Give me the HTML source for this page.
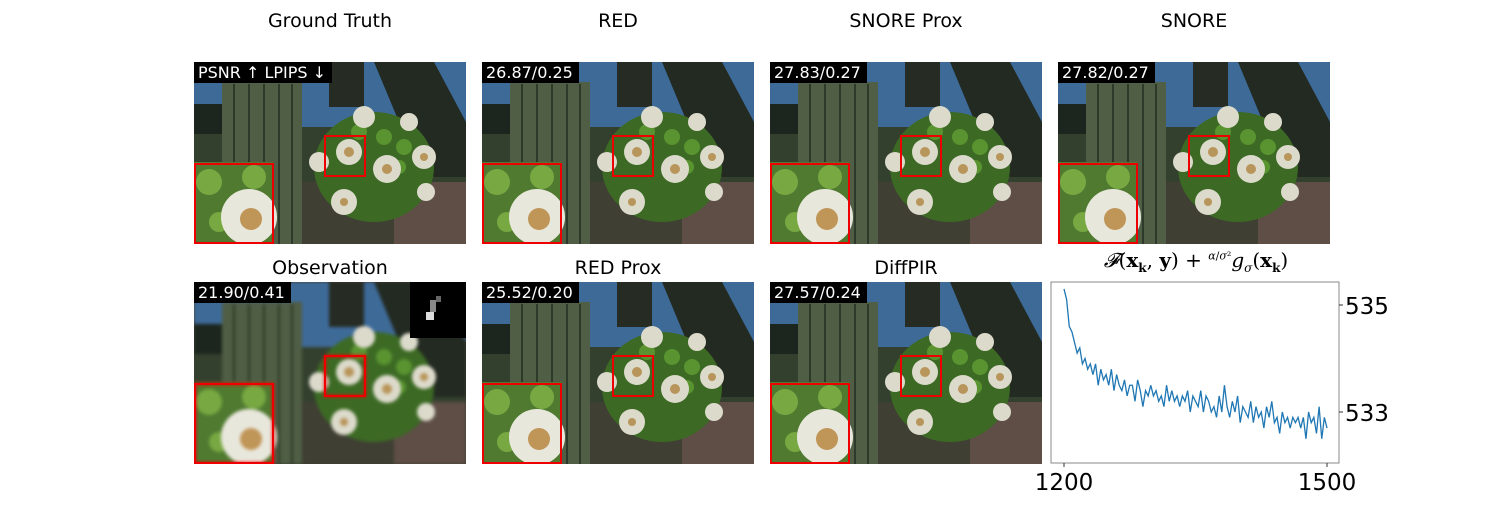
<!DOCTYPE html>
<html><head><meta charset="utf-8"><style>
body{margin:0;background:#fff;font-family:"DejaVu Sans","Liberation Sans",sans-serif;}
#root{position:relative;width:1488px;height:520px;overflow:hidden;background:#fff}
.title{position:absolute;width:272px;text-align:center;font-size:19px;color:#000}
.panel{position:absolute;width:272px;height:182px;overflow:hidden}
.tag{position:absolute;left:0;top:0;height:21px;background:#000;color:#fff;font-size:16px;line-height:21px;padding:0 6px 0 4px}
</style></head><body>
<div id="root">
<svg width="0" height="0" style="position:absolute"><defs>
<g id="scene">
<rect x="0" y="0" width="272" height="182" fill="#3f3f33"/>
<rect x="0" y="0" width="272" height="75" fill="#3e6a98"/>
<rect x="0" y="65" width="272" height="55" fill="#34402e"/>
<rect x="0" y="42" width="40" height="30" fill="#1c261e"/>
<rect x="135" y="0" width="35" height="45" fill="#262c24"/>
<polygon points="180,0 240,0 272,60 272,115 240,115 205,60" fill="#232a22"/>
<rect x="28" y="20" width="80" height="162" fill="#4f5e45"/>
<g stroke="#2e3a29" stroke-width="2"><line x1="40" y1="22" x2="40" y2="182"/><line x1="55" y1="22" x2="55" y2="182"/><line x1="70" y1="22" x2="70" y2="182"/><line x1="85" y1="22" x2="85" y2="182"/><line x1="98" y1="22" x2="98" y2="182"/></g>
<rect x="200" y="120" width="72" height="62" fill="#5e4e46"/>
<ellipse cx="180" cy="105" rx="60" ry="55" fill="#3c6a24"/>
<g fill="#5a9430"><circle cx="165" cy="70" r="8"/><circle cx="190" cy="75" r="8"/><circle cx="210" cy="85" r="8"/><circle cx="150" cy="90" r="7"/><circle cx="205" cy="105" r="7"/></g>
<g fill="#dcdacb"><circle cx="155" cy="90" r="13"/><circle cx="193" cy="107" r="14"/><circle cx="230" cy="95" r="12"/><circle cx="150" cy="140" r="13"/><circle cx="125" cy="100" r="10"/><circle cx="170" cy="55" r="11"/><circle cx="215" cy="60" r="9"/><circle cx="232" cy="130" r="9"/></g>
<g fill="#b8955a"><circle cx="155" cy="90" r="5"/><circle cx="193" cy="107" r="5"/><circle cx="230" cy="95" r="4"/><circle cx="150" cy="140" r="4"/></g>
<rect x="0" y="100" width="80" height="82" fill="#4f7a30"/>
<g fill="#78a842"><circle cx="15" cy="120" r="13"/><circle cx="60" cy="115" r="12"/><circle cx="25" cy="160" r="10"/></g>
<circle cx="55" cy="155" r="28" fill="#e8e7dc"/>
<circle cx="57" cy="157" r="11" fill="#c09558"/>
<rect x="1" y="102" width="78" height="79" fill="none" stroke="#e00" stroke-width="2"/>
<rect x="131" y="74" width="40" height="40" fill="none" stroke="#e00" stroke-width="2"/>
</g>
</defs></svg>

<div class="title" style="left:194px;top:10px">Ground Truth</div>
<div class="title" style="left:482px;top:10px">RED</div>
<div class="title" style="left:770px;top:10px">SNORE Prox</div>
<div class="title" style="left:1058px;top:10px">SNORE</div>
<div class="title" style="left:194px;top:257px">Observation</div>
<div class="title" style="left:482px;top:257px">RED Prox</div>
<div class="title" style="left:770px;top:257px">DiffPIR</div>

<div class="panel" style="left:194px;top:62px"><svg width="272" height="182"><use href="#scene"/></svg><div class="tag">PSNR ↑ LPIPS ↓</div></div>
<div class="panel" style="left:482px;top:62px"><svg width="272" height="182"><use href="#scene"/></svg><div class="tag">26.87/0.25</div></div>
<div class="panel" style="left:770px;top:62px"><svg width="272" height="182"><use href="#scene"/></svg><div class="tag">27.83/0.27</div></div>
<div class="panel" style="left:1058px;top:62px"><svg width="272" height="182"><use href="#scene"/></svg><div class="tag">27.82/0.27</div></div>
<div class="panel" style="left:194px;top:282px"><svg width="272" height="182"><rect width="272" height="182" fill="#3f3f33"/><g style="filter:blur(1.5px)"><use href="#scene"/></g><rect x="1" y="102" width="78" height="79" fill="none" stroke="#e00" stroke-width="2"/><rect x="131" y="74" width="40" height="40" fill="none" stroke="#e00" stroke-width="2"/><rect x="216" y="0" width="56" height="56" fill="#000"/><rect x="236" y="18" width="6" height="12" fill="#888"/><rect x="232" y="30" width="8" height="8" fill="#ddd"/><rect x="242" y="14" width="5" height="6" fill="#666"/></svg><div class="tag">21.90/0.41</div></div>
<div class="panel" style="left:482px;top:282px"><svg width="272" height="182"><use href="#scene"/></svg><div class="tag">25.52/0.20</div></div>
<div class="panel" style="left:770px;top:282px"><svg width="272" height="182"><use href="#scene"/></svg><div class="tag">27.57/0.24</div></div>

<div style="position:absolute;left:1050px;top:248px;width:292px;text-align:center;font-size:20px;font-family:'DejaVu Serif',serif;white-space:nowrap"><i>𝓕</i>(<b>x</b><sub style="font-size:12px"><b>k</b></sub>, <b>y</b>) + <sup style="font-size:11px"><i>α</i>/<i>σ</i>²</sup><i>g</i><sub style="font-size:12px"><i>σ</i></sub>(<b>x</b><sub style="font-size:12px"><b>k</b></sub>)</div>
<svg id="chart" style="position:absolute;left:0;top:0" width="1488" height="520"></svg>
</div>
<script>
const iters=[];for(let i=0;i<=100;i++)iters.push(1200+3*i);
const values=[535.3,535.1,534.6,534.5,534.3,534.1,534.2,533.9,534.0,533.8,
533.9,533.7,533.9,533.5,533.8,533.6,533.7,533.5,533.8,533.4,
533.7,533.5,533.4,533.6,533.3,533.5,533.5,533.2,533.6,533.4,
533.1,533.4,533.3,533.5,533.3,533.4,533.2,533.3,533.1,533.5,
533.2,533.4,533.2,533.3,533.1,533.3,533.2,533.4,533.0,533.3,
533.2,533.1,533.4,533.0,533.3,533.2,533.0,533.1,532.9,533.3,
533.0,533.5,533.1,532.9,533.2,533.0,533.3,532.8,533.1,533.0,
532.9,533.2,532.8,533.1,532.9,533.0,532.7,533.1,532.9,533.2,
532.8,532.9,532.6,533.0,532.8,532.9,532.7,532.9,532.8,532.9,
532.7,532.9,532.5,533.0,532.8,532.9,532.6,533.1,532.5,532.9,532.7];
const xTicks=[1200,1500];
const yTicks=[533,535];
const sx=v=>1064+(v-1200)*(1327-1064)/300;
const sy=v=>305+(535-v)*53.5;
const NS='http://www.w3.org/2000/svg';
const svg=document.getElementById('chart');
const box=document.createElementNS(NS,'rect');
box.setAttribute('x',1051);box.setAttribute('y',282);box.setAttribute('width',288);box.setAttribute('height',181);
box.setAttribute('fill','none');box.setAttribute('stroke','#888');


svg.appendChild(box);
const pl=document.createElementNS(NS,'polyline');
pl.setAttribute('points',values.map((v,i)=>sx(iters[i])+','+sy(v)).join(' '));
pl.setAttribute('fill','none');pl.setAttribute('stroke','#1f77b4');pl.setAttribute('stroke-width','1.3');


svg.appendChild(pl);
xTicks.forEach(t=>{
 const l=document.createElementNS(NS,'line');l.setAttribute('x1',sx(t));l.setAttribute('x2',sx(t));l.setAttribute('y1',463);l.setAttribute('y2',467);l.setAttribute('stroke','#333');
 
 
 svg.appendChild(l);
 const tx=document.createElementNS(NS,'text');tx.setAttribute('x',sx(t));tx.setAttribute('y',490);tx.setAttribute('text-anchor','middle');tx.setAttribute('font-size','23');tx.setAttribute('font-family','DejaVu Sans, sans-serif');tx.textContent=t;
 
 
 svg.appendChild(tx);
});
yTicks.forEach(t=>{
 const l=document.createElementNS(NS,'line');l.setAttribute('x1',1339);l.setAttribute('x2',1343);l.setAttribute('y1',sy(t));l.setAttribute('y2',sy(t));l.setAttribute('stroke','#333');
 
 
 svg.appendChild(l);
 const tx=document.createElementNS(NS,'text');tx.setAttribute('x',1345);tx.setAttribute('y',sy(t)+9);tx.setAttribute('font-size','23');tx.setAttribute('font-family','DejaVu Sans, sans-serif');tx.textContent=t;
 
 
 svg.appendChild(tx);
});
</script>
</body></html>
